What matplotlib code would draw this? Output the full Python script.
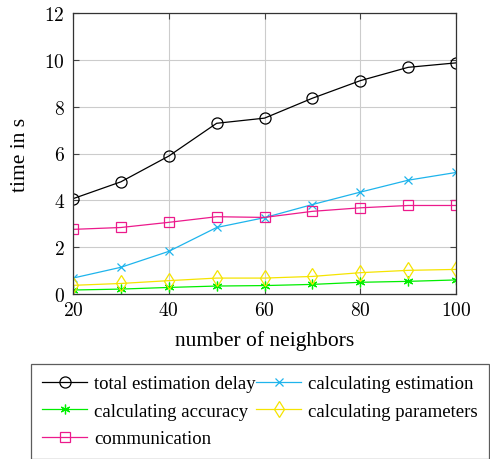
import matplotlib
matplotlib.use("Agg")
import matplotlib.pyplot as plt
from matplotlib.ticker import FuncFormatter

neighbors = [20, 30, 40, 50, 60, 70, 80, 90, 100]
total_delay = [4.07, 4.79, 5.89, 7.29, 7.51, 8.36, 9.11, 9.68, 9.87]
calc_estimation = [0.68, 1.14, 1.82, 2.84, 3.26, 3.82, 4.35, 4.86, 5.19]
calc_accuracy = [0.17, 0.21, 0.28, 0.34, 0.36, 0.41, 0.50, 0.54, 0.60]
calc_parameters = [0.37, 0.45, 0.57, 0.68, 0.68, 0.75, 0.91, 1.01, 1.05]
communication = [2.76, 2.84, 3.06, 3.30, 3.27, 3.53, 3.68, 3.78, 3.78]
xticks = [20, 40, 60, 80, 100]
yticks = [0, 2, 4, 6, 8, 10, 12]

plt.rcParams['font.family'] = ['Liberation Serif', 'DejaVu Serif']
plt.rcParams['mathtext.fontset'] = 'cm'

fig = plt.figure(figsize=(4.9, 4.6), dpi=100)
W, H = 490, 460
ax = fig.add_axes([73 / W, 1 - 295 / H, (456 - 73) / W, (295 - 14) / H])

lw = 0.9
h1, = ax.plot(neighbors, total_delay, color='black', marker='o', mfc='none', ms=8, mew=lw, lw=lw,
              label='total estimation delay')
h2, = ax.plot(neighbors, calc_estimation, color='#1EB4EC', marker='x', ms=6, mew=lw, lw=lw,
              label='calculating estimation')
h3, = ax.plot(neighbors, calc_accuracy, color='#00EE00', marker=(6, 2, 0), ms=7, mew=lw, lw=lw,
              label='calculating accuracy')
h4, = ax.plot(neighbors, calc_parameters, color='#F5E400', marker='d', mfc='none', ms=8, mew=lw, lw=lw,
              label='calculating parameters')
h5, = ax.plot(neighbors, communication, color='#EC1A8C', marker='s', mfc='none', ms=7.5, mew=lw, lw=lw,
              label='communication')

ax.set_xlim(20, 100)
ax.set_ylim(0, 12)
ax.set_xticks(xticks)
ax.set_yticks(yticks)
fmt = FuncFormatter(lambda v, p: r'$%d$' % v)
ax.xaxis.set_major_formatter(fmt)
ax.yaxis.set_major_formatter(fmt)
ax.tick_params(direction='in', top=True, right=True, labelsize=14, length=4, width=0.8, color='#444444')
ax.tick_params(axis='x', pad=5)
ax.tick_params(axis='y', pad=6)
ax.grid(True, color='#cccccc', lw=0.8)
ax.set_axisbelow(True)
for s in ax.spines.values():
    s.set_color('#333333')
    s.set_linewidth(0.9)

ax.set_xlabel('number of neighbors', fontsize=15.5, labelpad=8)
ax.set_ylabel('time in s', fontsize=15.5, labelpad=10)

leg = fig.legend(handles=[h1, h3, h5, h2, h4], loc='upper left',
                 bbox_to_anchor=(31 / W, 1 - 365 / H, (489 - 31) / W, 0),
                 mode='expand', ncol=2, fontsize=13.5, frameon=True, fancybox=False,
                 edgecolor='#333333', handlelength=2.4, handletextpad=0.37, columnspacing=0.4,
                 labelspacing=0.55, borderpad=0.6, borderaxespad=0)
leg.get_frame().set_linewidth(0.9)

fig.savefig('out.png', dpi=100)
